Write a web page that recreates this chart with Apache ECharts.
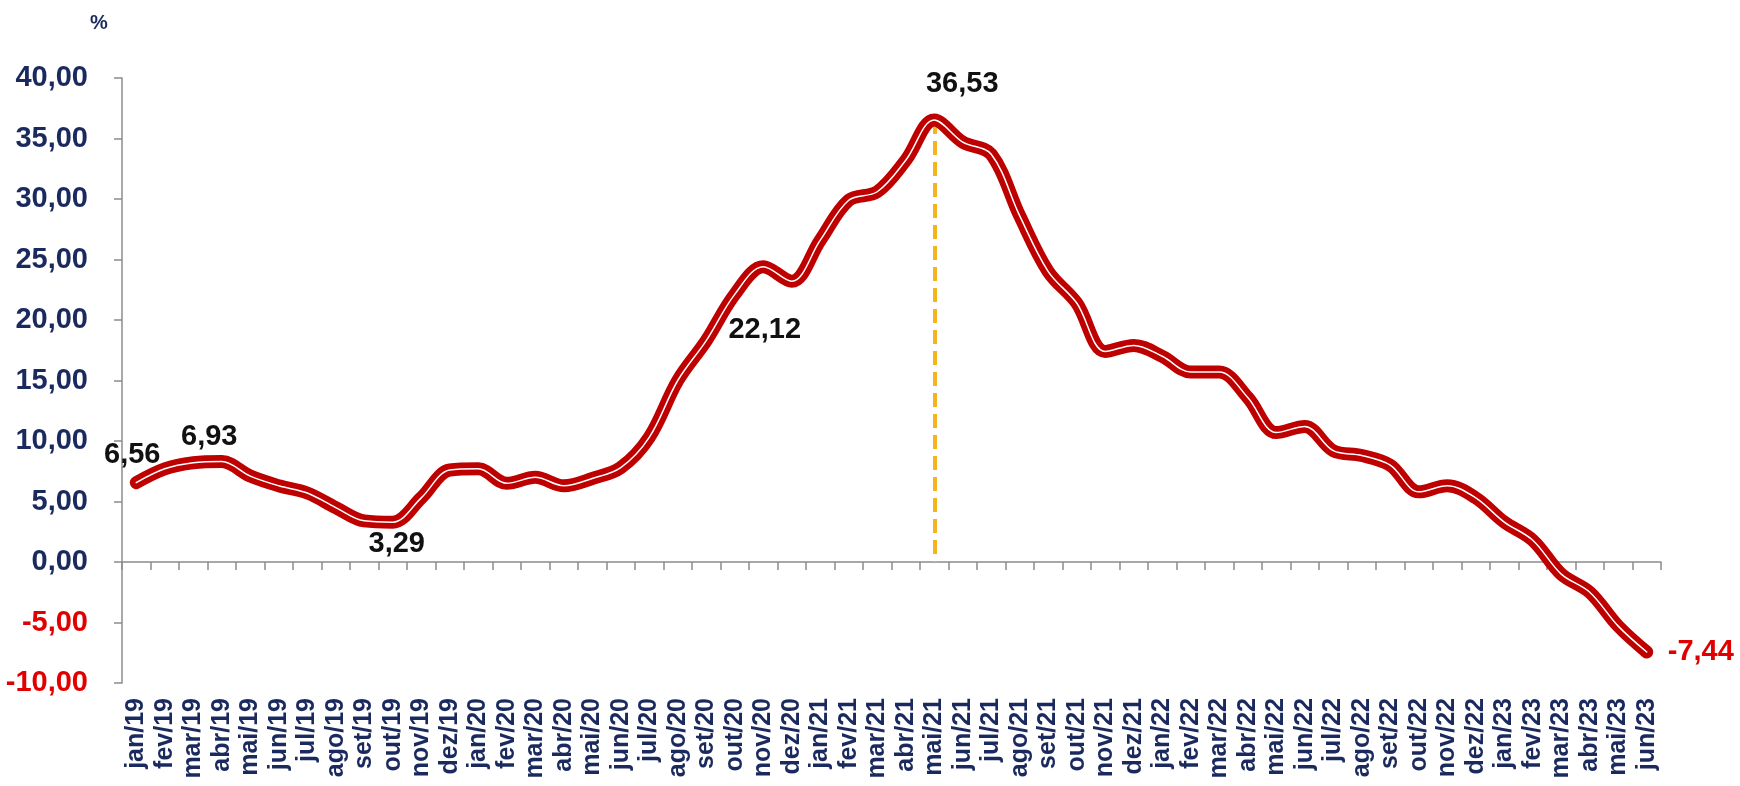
<!DOCTYPE html>
<html>
<head>
<meta charset="utf-8">
<script src="https://cdn.jsdelivr.net/npm/echarts@6/dist/echarts.min.js"></script>
<style>
html,body{margin:0;padding:0;background:#fff;}
#chart{width:1740px;height:786px;}
</style>
</head>
<body>
<div id="chart"></div>
<script>
const categories = ['jan/19','fev/19','mar/19','abr/19','mai/19','jun/19','jul/19','ago/19','set/19','out/19','nov/19','dez/19',
  'jan/20','fev/20','mar/20','abr/20','mai/20','jun/20','jul/20','ago/20','set/20','out/20','nov/20','dez/20',
  'jan/21','fev/21','mar/21','abr/21','mai/21','jun/21','jul/21','ago/21','set/21','out/21','nov/21','dez/21',
  'jan/22','fev/22','mar/22','abr/22','mai/22','jun/22','jul/22','ago/22','set/22','out/22','nov/22','dez/22',
  'jan/23','fev/23','mar/23','abr/23','mai/23','jun/23'];
const values = [6.56,7.7,8.2,8.3,7.1,6.3,5.7,4.5,3.4,3.29,5.3,7.6,
  7.7,6.5,7.0,6.3,6.9,7.8,10.3,15.0,18.3,22.12,24.4,23.2,
  26.6,29.9,30.6,33.2,36.53,34.7,33.7,28.6,24.0,21.4,17.4,17.9,
  17.0,15.7,15.7,13.6,10.7,11.2,9.2,8.8,8.0,5.8,6.3,5.3,
  3.3,1.8,-1.0,-2.5,-5.3,-7.44];
const annotatedCategories = ['jan/19','mar/19','out/19','out/20','mai/21','jun/23'];
const annotationTexts = ['6,56','6,93','3,29','22,12','36,53','-7,44'];
const yTicks = {min:-10, max:40, interval:5};
const peakCategory = 'mai/21';
const peakValue = 36.53;

const FONT = "'Liberation Sans', Arial, sans-serif";
const NAVY = '#1B2A5E';
const RED_TXT = '#E00000';
const LINE_RED = '#BE0000';

const labelPlacement = {
  'jan/19': {position:'top', distance:12, offset:[-4,0]},
  'mar/19': {position:'top', distance:10, offset:[16,0]},
  'out/19': {position:'bottom', distance:6, offset:[4,0]},
  'out/20': {position:'bottom', distance:20, offset:[30,0]},
  'mai/21': {position:'top', distance:20, offset:[28,0]},
  'jun/23': {position:'right', distance:20, offset:[0,0]}
};

const seriesData = values.map((v, i) => {
  const cat = categories[i];
  const k = annotatedCategories.indexOf(cat);
  if (k < 0) return v;
  const p = labelPlacement[cat];
  return {
    value: v,
    label: {
      show: true,
      formatter: annotationTexts[k],
      position: p.position,
      distance: p.distance,
      offset: p.offset,
      fontFamily: FONT,
      fontWeight: 'bold',
      fontSize: 29,
      color: v < 0 ? RED_TXT : '#111'
    }
  };
});

const fmt = v => v.toFixed(2).replace('.', ',');

const chart = echarts.init(document.getElementById('chart'), null, {renderer:'canvas'});
chart.setOption({
  animation: false,
  backgroundColor: '#fff',
  grid: {left:122, right:79, top:78, bottom:103, containLabel:false},
  graphic: [{
    type:'text', left:90, top:13,
    style:{text:'%', fontFamily:FONT, fontWeight:'bold', fontSize:20, fill:NAVY}
  }],
  xAxis: [{
    type:'category', data:categories, boundaryGap:true,
    position:'bottom',
    axisLine:{show:false, onZero:false},
    axisTick:{show:false},
    axisLabel:{interval:0, rotate:90, margin:15, fontFamily:FONT, fontWeight:'bold', fontSize:25, color:NAVY}
  },{
    type:'category', data:categories, boundaryGap:true,
    position:'bottom',
    axisLine:{show:true, onZero:true, lineStyle:{color:'#8c8c8c', width:1.5}},
    axisTick:{show:true, alignWithLabel:false, interval:0, length:8, lineStyle:{color:'#8c8c8c', width:1.5}},
    axisLabel:{show:false}
  }],
  yAxis: {
    type:'value', min:yTicks.min, max:yTicks.max, interval:yTicks.interval,
    axisLine:{show:true, lineStyle:{color:'#8c8c8c', width:1.5}},
    axisTick:{show:true, inside:false, length:8, lineStyle:{color:'#8c8c8c', width:1.5}},
    splitLine:{show:false},
    axisLabel:{
      margin:34, fontFamily:FONT, fontWeight:'bold', fontSize:29,
      formatter: fmt,
      color: v => (Number(v) < 0 ? RED_TXT : NAVY)
    }
  },
  series: [{
    type:'line', xAxisIndex:1, data:seriesData, smooth:0.35,
    symbol:'circle', symbolSize:2, showSymbol:true, showAllSymbol:true,
    itemStyle:{color:LINE_RED},
    lineStyle:{color:LINE_RED, width:13, cap:'round', join:'round'},
    z:3,
    markLine:{
      silent:true, symbol:'none', animation:false,
      lineStyle:{color:'#F5B41E', width:4, type:[14,7]},
      label:{show:false},
      data:[[{coord:[peakCategory, peakValue]}, {coord:[peakCategory, 0]}]],
      z:2
    }
  },{
    type:'line', xAxisIndex:1, data:values, smooth:0.35, symbol:'none',
    lineStyle:{color:'#ffffff', width:1.5, cap:'round', join:'round'},
    z:4, silent:true
  }]
});
</script>
</body>
</html>
